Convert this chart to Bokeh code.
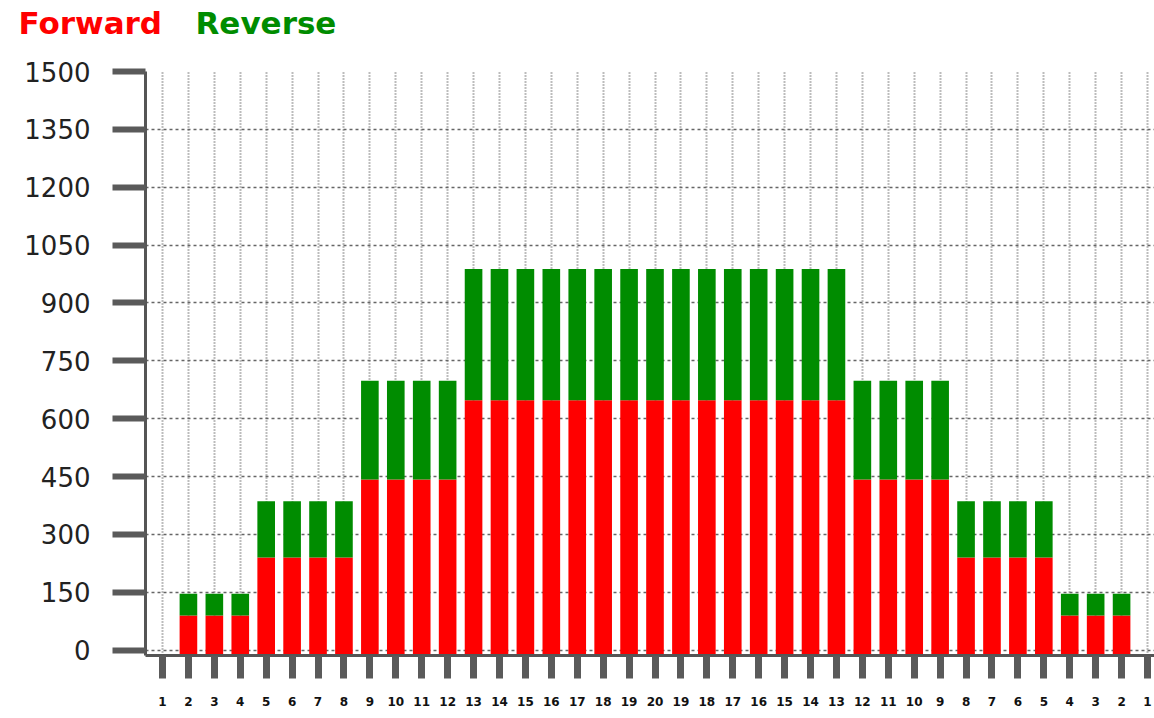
from bokeh.plotting import figure
from bokeh.layouts import column
from bokeh.models import Range1d, FixedTicker, ColumnDataSource
from bokeh.core.properties import value
from bokeh.embed import file_html
from bokeh.resources import INLINE

# ---- data ----
x_labels = ["1", "2", "3", "4", "5", "6", "7", "8", "9", "10",
            "11", "12", "13", "14", "15", "16", "17", "18", "19", "20",
            "19", "18", "17", "16", "15", "14", "13", "12", "11", "10",
            "9", "8", "7", "6", "5", "4", "3", "2", "1"]
forward = [0, 90, 90, 90, 240, 240, 240, 240, 442, 442,
           442, 442, 648, 648, 648, 648, 648, 648, 648, 648,
           648, 648, 648, 648, 648, 648, 648, 442, 442, 442,
           442, 240, 240, 240, 240, 90, 90, 90, 0]
reverse = [0, 56, 56, 56, 146, 146, 146, 146, 256, 256,
           256, 256, 340, 340, 340, 340, 340, 340, 340, 340,
           340, 340, 340, 340, 340, 340, 340, 256, 256, 256,
           256, 146, 146, 146, 146, 56, 56, 56, 0]
y_ticks = [0, 150, 300, 450, 600, 750, 900, 1050, 1200, 1350, 1500]
series_names = ["Forward", "Reverse"]

RED = "#ff0000"
GREEN = "#008c00"
Y_START = -14

W = 1154
LEG_H = 51
MAIN_H = 667

# ---- legend strip (text only, as in the original) ----
leg = figure(width=W, height=LEG_H, x_range=Range1d(0, W), y_range=Range1d(0, LEG_H),
             x_axis_type=None, y_axis_type=None,
             output_backend="svg", toolbar_location=None,
             min_border=0)
leg.frame_align = False
leg.outline_line_color = None
leg.text(x=[18, 195], y=[29, 29], text=series_names,
         text_color=[RED, GREEN], text_font=value("DejaVu Sans"),
         text_font_style="bold", text_font_size="31px",
         text_baseline="middle", text_align="left")

# ---- main chart ----
xs = list(range(1, len(x_labels) + 1))
fwd_bottom = [Y_START if f > 0 else 0 for f in forward]
rev_top = [f + r for f, r in zip(forward, reverse)]
src = ColumnDataSource(dict(x=xs, fb=fwd_bottom, f=forward, rt=rev_top))

p = figure(width=W, height=MAIN_H,
           x_range=Range1d(0.344, 39.27), y_range=Range1d(Y_START, 1500),
           output_backend="svg", toolbar_location=None,
           min_border_left=145, min_border_right=0,
           min_border_top=20, min_border_bottom=63)
p.frame_align = False
p.outline_line_color = None
p.background_fill_color = "white"

p.vbar(x="x", bottom="fb", top="f", width=0.68, fill_color=RED,
       line_color=None, source=src)
p.vbar(x="x", bottom="f", top="rt", width=0.68, fill_color=GREEN,
       line_color=None, source=src)

p.xaxis.ticker = FixedTicker(ticks=xs)
p.xaxis.major_label_overrides = {x: l for x, l in zip(xs, x_labels)}
p.xaxis.major_label_text_font = "DejaVu Sans"
p.xaxis.major_label_text_font_size = "12px"
p.xaxis.major_label_text_font_style = "bold"
p.xaxis.major_label_text_color = "#111111"
p.xaxis.major_label_standoff = 18
p.xaxis.major_tick_out = 23
p.xaxis.major_tick_in = 0
p.xaxis.major_tick_line_width = 7
p.xaxis.major_tick_line_color = "#5a5a5a"
p.xaxis.minor_tick_line_color = None
p.xaxis.axis_line_width = 3
p.xaxis.axis_line_color = "#555555"

p.yaxis.ticker = FixedTicker(ticks=y_ticks)
p.yaxis.major_label_text_font = "DejaVu Sans"
p.yaxis.major_label_text_font_size = "26px"
p.yaxis.major_label_text_color = "#222222"
p.yaxis.major_label_standoff = 22
p.yaxis.major_tick_out = 33
p.yaxis.major_tick_in = 0
p.yaxis.major_tick_line_width = 6
p.yaxis.major_tick_line_color = "#5a5a5a"
p.yaxis.minor_tick_line_color = None
p.yaxis.axis_line_width = 3
p.yaxis.axis_line_color = "#555555"

p.xgrid.ticker = FixedTicker(ticks=xs)
p.xgrid.grid_line_color = "#7a7a7a"
p.xgrid.grid_line_width = 2
p.xgrid.grid_line_dash = "1 2"
p.ygrid.ticker = FixedTicker(ticks=y_ticks)
p.ygrid.grid_line_color = "#666666"
p.ygrid.grid_line_width = 1.5
p.ygrid.grid_line_dash = "3 3"

layout = column(leg, p, spacing=0)
open("out.html", "w").write(file_html(layout, INLINE))
